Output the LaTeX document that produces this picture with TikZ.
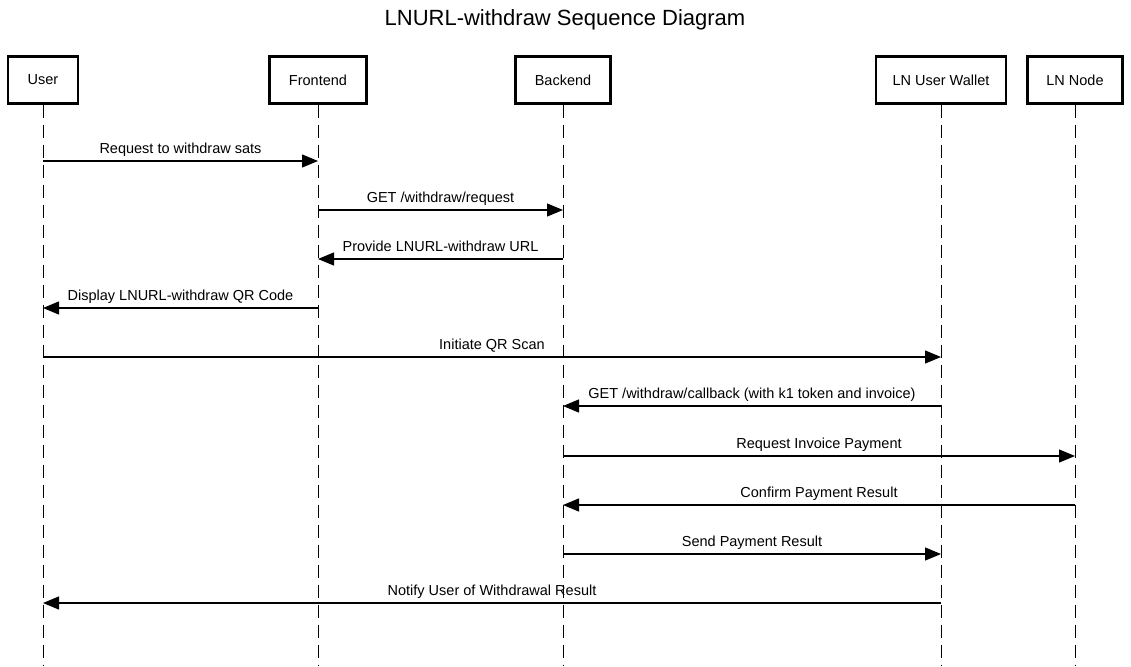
\documentclass[tikz,border=0pt]{standalone}
\usepackage{fontspec}
\setmainfont{Liberation Sans}
\usetikzlibrary{arrows.meta}

\begin{document}
\begin{tikzpicture}[x=1pt,y=-1pt,
  actor/.style={draw,line width=2.2pt,minimum height=47pt,inner sep=0pt,font=\fontsize{14.5}{16}\selectfont},
  life/.style={line width=1pt,dash pattern=on 13pt off 7pt},
  msg/.style={line width=1.2pt,-{Triangle[length=16pt,width=13pt]}},
  txt/.style={anchor=base,inner sep=0pt,font=\fontsize{14.5}{16}\selectfont}]

\useasboundingbox (0,0) rectangle (1131,666);

\node at (565,20) {\fontsize{22}{26}\selectfont LNURL-withdraw Sequence Diagram};

\node[actor,minimum width=70pt](user)at(43,80){User};
\node[actor,minimum width=97pt](front)at(318,80){Frontend};
\node[actor,minimum width=95pt](back)at(563,80){Backend};
\node[actor,minimum width=130pt](wallet)at(941,80){LN User Wallet};
\node[actor,minimum width=95pt](lnnode)at(1075,80){LN Node};

\coordinate(userE)at(user |- 0,666);
\coordinate(frontE)at(front |- 0,666);
\coordinate(backE)at(back |- 0,666);
\coordinate(walletE)at(wallet |- 0,666);
\coordinate(lnnodeE)at(lnnode |- 0,666);

\draw[life](user.south)--(userE);
\draw[life](front.south)--(frontE);
\draw[life](back.south)--(backE);
\draw[life](wallet.south)--(walletE);
\draw[life](lnnode.south)--(lnnodeE);

%% messages
\draw[msg](user |- 0,161)--(front |- 0,161);
\node[txt]at(180.5,153){Request to withdraw sats};
\draw[msg](front |- 0,210)--(back |- 0,210);
\node[txt]at(440.5,202){GET /withdraw/request};
\draw[msg](back |- 0,259)--(front |- 0,259);
\node[txt]at(440.5,251){Provide LNURL-withdraw URL};
\draw[msg](front |- 0,308)--(user |- 0,308);
\node[txt]at(180.5,300){Display LNURL-withdraw QR Code};
\draw[msg](user |- 0,357)--(wallet |- 0,357);
\node[txt]at(492,349){Initiate QR Scan};
\draw[msg](wallet |- 0,406)--(back |- 0,406);
\node[txt]at(752,398){GET /withdraw/callback (with k1 token and invoice)};
\draw[msg](back |- 0,456)--(lnnode |- 0,456);
\node[txt]at(819,448){Request Invoice Payment};
\draw[msg](lnnode |- 0,505)--(back |- 0,505);
\node[txt]at(819,497){Confirm Payment Result};
\draw[msg](back |- 0,554)--(wallet |- 0,554);
\node[txt]at(752,546){Send Payment Result};
\draw[msg](wallet |- 0,603)--(user |- 0,603);
\node[txt]at(492,595){Notify User of Withdrawal Result};
\end{tikzpicture}
\end{document}
